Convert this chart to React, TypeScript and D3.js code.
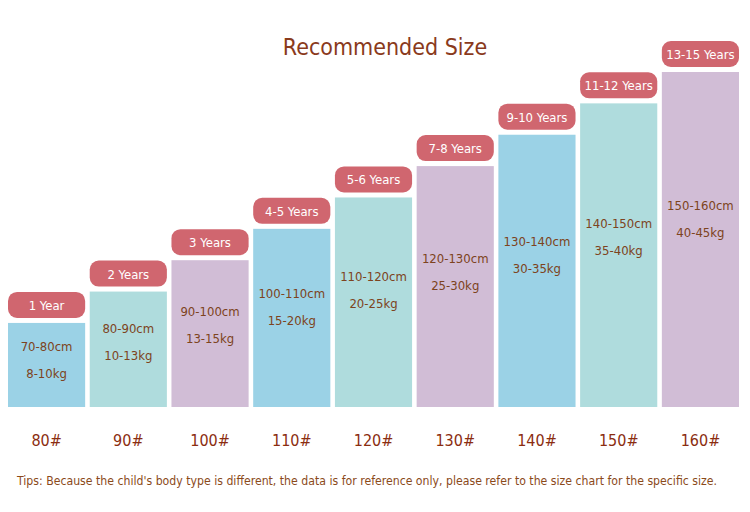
import * as d3 from "d3";

const sizes = ["80#", "90#", "100#", "110#", "120#", "130#", "140#", "150#", "160#"];
const heightsCm = [80, 90, 100, 110, 120, 130, 140, 150, 160];
const ages = ["1 Year", "2 Years", "3 Years", "4-5 Years", "5-6 Years", "7-8 Years", "9-10 Years", "11-12 Years", "13-15 Years"];
const cmRanges = ["70-80cm", "80-90cm", "90-100cm", "100-110cm", "110-120cm", "120-130cm", "130-140cm", "140-150cm", "150-160cm"];
const kgRanges = ["8-10kg", "10-13kg", "13-15kg", "15-20kg", "20-25kg", "25-30kg", "30-35kg", "35-40kg", "40-45kg"];
const barColors = ["#9bd2e6", "#afdcdd", "#d1bdd6"];

const W = 750;
const H = 512;
const FONT = "'DejaVu Sans Condensed', 'DejaVu Sans', sans-serif";

const App = () => {
  const x = d3.scaleBand().domain(sizes).range([8, 739]).paddingInner(0.056).paddingOuter(0);
  const y = d3.scaleLinear().domain([53.2, 160]).range([407, 72]);
  const bw = x.bandwidth();

  return (
    <svg
      width={W}
      height={H}
      style={{ position: "absolute", left: 0, top: 0, background: "#fff" }}
      fontFamily={FONT}
    >
      <text x={385} y={55} textAnchor="middle" fontSize={23} fill="#8a3a1c">
        Recommended Size
      </text>

      {sizes.map((s, i) => {
        const x0 = x(s);
        const top = y(heightsCm[i]);
        const h = y.range()[0] - top;
        const mid = top + h * 0.44;
        const cx = x0 + bw / 2;
        return (
          <g key={s}>
            <rect x={x0} y={top} width={bw} height={h} fill={barColors[i % 3]} />
            <rect x={x0} y={top - 31} width={bw} height={26} rx={9} fill="#d0666f" />
            <text x={cx} y={top - 13} textAnchor="middle" fontSize={13} fill="#fff">
              {ages[i]}
            </text>
            <text x={cx} y={mid - 9} textAnchor="middle" fontSize={13} fill="#7d4320">
              {cmRanges[i]}
            </text>
            <text x={cx} y={mid + 18} textAnchor="middle" fontSize={13} fill="#7d4320">
              {kgRanges[i]}
            </text>
            <text x={cx} y={446} textAnchor="middle" fontSize={16} fill="#8b2d10">
              {s}
            </text>
          </g>
        );
      })}

      <text x={367} y={485} textAnchor="middle" fontSize={11.5} fill="#8b4a1a" textLength={700} lengthAdjust="spacingAndGlyphs">
        Tips: Because the child's body type is different, the data is for reference only, please refer to the size chart for the specific size.
      </text>
    </svg>
  );
};

export default App;
